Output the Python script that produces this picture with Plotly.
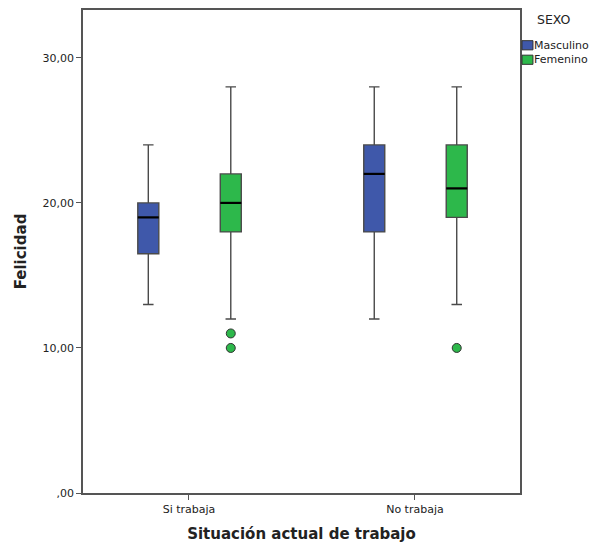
import plotly.graph_objects as go

categories = ["Si trabaja", "No trabaja"]
cat_pos = [0, 1]
groups = ["Masculino", "Femenino"]
colors = {"Masculino": "#3F58AA", "Femenino": "#2DB84B"}
offsets = {"Masculino": -0.18, "Femenino": 0.185}
legend_title = "SEXO"

lower = {"Masculino": [13, 12], "Femenino": [12, 13]}
q1 = {"Masculino": [16.5, 18], "Femenino": [18, 19]}
median = {"Masculino": [19, 22], "Femenino": [20, 21]}
q3 = {"Masculino": [20, 24], "Femenino": [22, 24]}
upper = {"Masculino": [24, 28], "Femenino": [28, 28]}
outliers = {"Masculino": [[], []], "Femenino": [[10, 11], [10]]}

ytick_vals = [0, 10, 20, 30]
ytick_text = [",00", "10,00", "20,00", "30,00"]

BOX_W = 0.093

fig = go.Figure()
for g in groups:
    xs = [p + offsets[g] for p in cat_pos]
    fig.add_trace(go.Box(
        x=xs, q1=q1[g], median=median[g], q3=q3[g],
        lowerfence=lower[g], upperfence=upper[g],
        name=g, fillcolor=colors[g], width=BOX_W, whiskerwidth=0.5,
        line=dict(color="#4a4a4a", width=1.4), boxpoints=False,
        showlegend=False,
    ))
    # thicker black median lines
    mx, my = [], []
    for x, m in zip(xs, median[g]):
        mx += [x - BOX_W / 2, x + BOX_W / 2, None]
        my += [m, m, None]
    fig.add_trace(go.Scatter(x=mx, y=my, mode="lines", showlegend=False,
                             line=dict(color="black", width=2.2), hoverinfo="skip"))
    ox, oy = [], []
    for p, vals in zip(cat_pos, outliers[g]):
        for v in vals:
            ox.append(p + offsets[g]); oy.append(v)
    if ox:
        fig.add_trace(go.Scatter(
            x=ox, y=oy, mode="markers", showlegend=False,
            marker=dict(color=colors[g], size=9, line=dict(color="#333333", width=1)),
        ))

# custom legend (SPSS style) to the right of the frame
annotations = [dict(text=legend_title, xref="paper", yref="paper", x=1.035, y=0.98,
                    xanchor="left", yanchor="middle", showarrow=False,
                    font=dict(size=12.5, color="#222222"))]
shapes = []
leg_y = [0.927, 0.897]
for g, yy in zip(groups, leg_y):
    shapes.append(dict(type="rect", xref="paper", yref="paper",
                       x0=1.0046, x1=1.0297, y0=yy - 0.0095, y1=yy + 0.0095,
                       fillcolor=colors[g], line=dict(color="#333333", width=1)))
    annotations.append(dict(text=g, xref="paper", yref="paper", x=1.0305, y=yy,
                            xanchor="left", yanchor="middle", showarrow=False,
                            borderpad=0, font=dict(size=11, color="#222222")))

fig.update_layout(
    width=597, height=548,
    margin=dict(l=83, r=77, t=8, b=52),
    paper_bgcolor="white", plot_bgcolor="white",
    font=dict(family="DejaVu Sans", size=11, color="#222222"),
    showlegend=False,
    annotations=annotations, shapes=shapes,
    xaxis=dict(
        range=[-0.469, 1.465], tickvals=cat_pos, ticktext=categories,
        showgrid=False, zeroline=False, showline=True, linecolor="#555555",
        linewidth=1.5, mirror=True, ticks="outside", ticklen=5, tickcolor="#555555",
        tickfont=dict(size=11),
        title=dict(text="<b>Situación actual de trabajo</b>", font=dict(size=15), standoff=14),
    ),
    yaxis=dict(
        range=[0, 33.3], tickvals=ytick_vals, ticktext=ytick_text,
        showgrid=False, zeroline=False, showline=True, linecolor="#555555",
        linewidth=1.5, mirror=True, ticks="outside", ticklen=5, tickcolor="#555555",
        tickfont=dict(size=11),
        title=dict(text="<b>Felicidad</b>", font=dict(size=15), standoff=12),
    ),
)

fig.write_html("out.html")
